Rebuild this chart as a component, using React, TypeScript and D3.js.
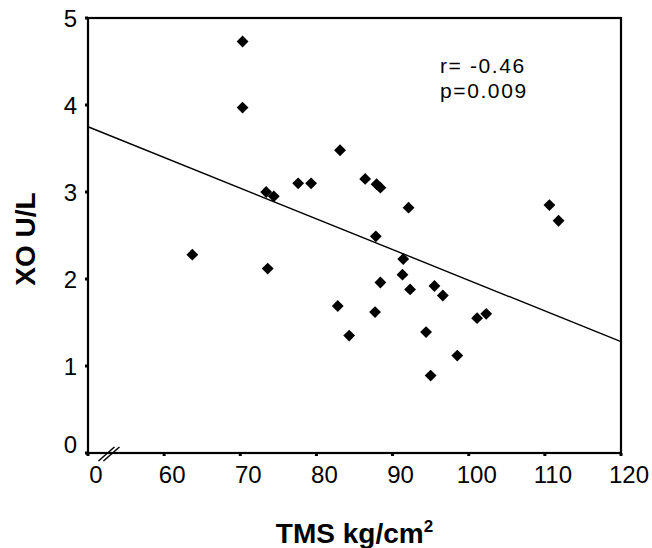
import React from 'react';
import * as d3 from 'd3';

// TMS (kg/cm2) vs XO (U/L)
const tmsValues = [
	70.3, 70.3, 83.1, 73.4, 74.4, 77.6, 79.3, 86.4, 87.9, 88.4, 92.1, 63.7, 73.6, 87.8, 91.4, 91.3,
	88.4, 92.3, 95.5, 96.6, 82.8, 87.7, 84.3, 94.4, 98.5, 95.0, 101.1, 102.3, 110.6, 111.8,
];
const xoValues = [
	4.73, 3.97, 3.48, 3.0, 2.95, 3.1, 3.1, 3.15, 3.09, 3.05, 2.82, 2.28, 2.12, 2.49, 2.23, 2.05,
	1.96, 1.88, 1.92, 1.81, 1.69, 1.62, 1.35, 1.39, 1.12, 0.89, 1.55, 1.6, 2.85, 2.67,
];
// fitted line, read at the two ends of the x axis
const fitX = [0, 120];
const fitY = [3.75, 1.28];

const xTicks = [0, 60, 70, 80, 90, 100, 110, 120];
const yTicks = [0, 1, 2, 3, 4, 5];
const statLines = ['r= -0.46', 'p=0.009'];

const width = 652;
const height = 548;
const left = 88;
const right = 621;
const top = 18;
const bottom = 453;
const font = '"Liberation Sans", Arial, sans-serif';

export default function App() {
	const step = (right - left) / 7;
	// broken axis: 0..60 squeezed into one tick interval
	const x = d3.scaleLinear().domain([0, 60, 120]).range([left, left + step, right]);
	const y = d3.scaleLinear().domain([0, 5]).range([bottom, top]);

	const diamond = d3.symbol(d3.symbolSquare, 70)();
	const fitPath = d3
		.line<number>()
		.x((d) => x(d))
		.y((d, i) => y(fitY[i]))(fitX);

	const points = tmsValues.map((v, i) => ({ x: v, y: xoValues[i] }));
	const brk = x(16.5);

	return (
		<svg
			width={width}
			height={height}
			style={{ position: 'absolute', left: 0, top: 0, background: '#fff' }}
			fontFamily={font}>
			{/* frame */}
			<rect
				x={left}
				y={top}
				width={right - left}
				height={bottom - top}
				fill='none'
				stroke='#000'
				strokeWidth={2.2}
			/>

			{/* y ticks */}
			{yTicks.map((t) => (
				<g key={'y' + t}>
					<line x1={left - 3} x2={left} y1={y(t)} y2={y(t)} stroke='#000' strokeWidth={3} />
					<text
						x={left - 11}
						y={y(t) - (t === 0 ? 9 : 0)}
						dy='0.36em'
						textAnchor='end'
						fontSize={24}>
						{t}
					</text>
				</g>
			))}

			{/* x ticks */}
			{xTicks.map((t) => (
				<g key={'x' + t}>
					<line x1={x(t)} x2={x(t)} y1={bottom} y2={bottom + 3} stroke='#000' strokeWidth={3} />
					<text x={x(t) + 8} y={bottom + 30} textAnchor='middle' fontSize={24}>
						{t}
					</text>
				</g>
			))}

			{/* axis break */}
			{[-2.5, 2.5].map((o) => (
				<line
					key={o}
					x1={brk + o - 8}
					y1={bottom + 8}
					x2={brk + o + 8}
					y2={bottom - 6}
					stroke='#000'
					strokeWidth={1.5}
				/>
			))}

			{/* regression line */}
			<path d={fitPath || ''} fill='none' stroke='#000' strokeWidth={1.4} />

			{/* points */}
			{points.map((d, i) => (
				<path
					key={i}
					d={diamond || ''}
					transform={`translate(${x(d.x)},${y(d.y)}) rotate(45)`}
					fill='#000'
				/>
			))}

			{/* stats */}
			{statLines.map((s, i) => (
				<text key={s} x={440} y={73 + i * 25} fontSize={21} letterSpacing={1.6}>
					{s}
				</text>
			))}

			{/* axis titles */}
			<text x={(left + right) / 2} y={543} textAnchor='middle' fontSize={28} fontWeight='bold'>
				TMS kg/cm
				<tspan fontSize={17} dy={-11}>
					2
				</tspan>
			</text>
			<text
				transform={`translate(35,239) rotate(-90)`}
				textAnchor='middle'
				fontSize={28}
				fontWeight='bold'>
				XO U/L
			</text>
		</svg>
	);
}
